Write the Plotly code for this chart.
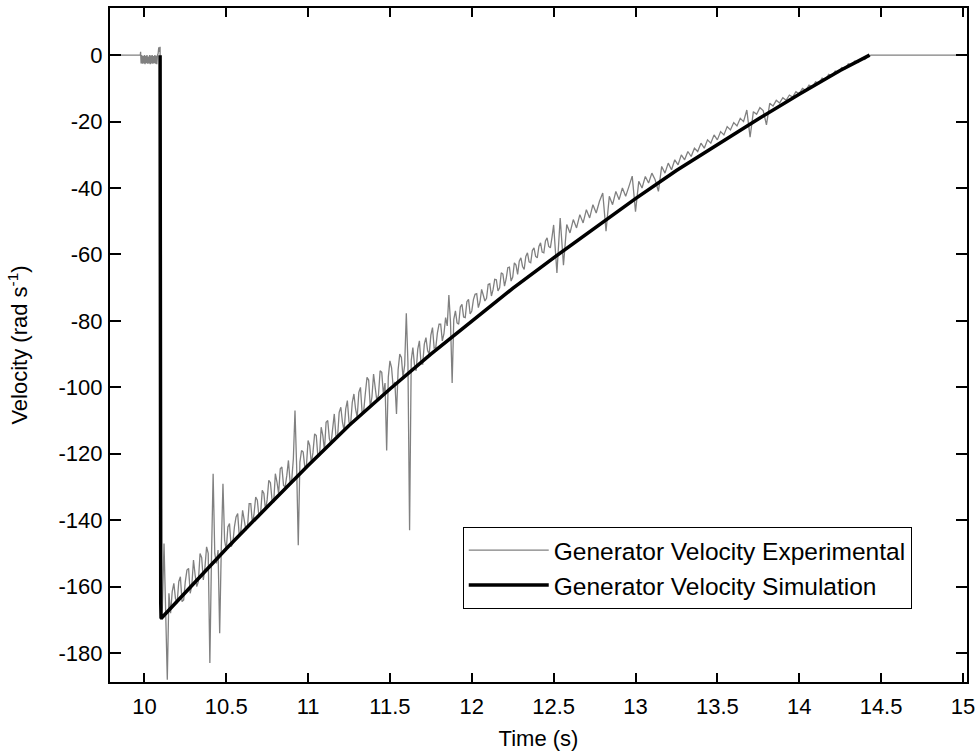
import numpy as np
import plotly.graph_objects as go

# ---------------- data ----------------
# Simulation (black)
sim_time = [10.096, 10.096, 10.100, 10.100, 10.102, 10.300, 10.500, 10.750, 11.000,
            11.250, 11.500, 11.750, 12.000, 12.250, 12.500, 12.750, 13.000, 13.250,
            13.500, 13.750, 14.000, 14.250, 14.430]
sim_vel = [0.0, -55.0, -56.0, -165.0, -169.6, -159.0, -148.6, -136.0, -123.5,
           -111.5, -100.5, -90.0, -80.0, -70.2, -61.0, -52.0, -43.2, -34.7,
           -26.8, -19.2, -11.8, -4.6, 0.0]

# Experimental (grey): idle part before the step
exp_time_pre = [9.790, 9.975, 9.977, 9.980, 9.984, 9.988, 9.992, 9.996, 10.000, 10.004,
                10.008, 10.012, 10.016, 10.020, 10.024, 10.028, 10.032, 10.036, 10.040,
                10.044, 10.048, 10.052, 10.056, 10.060, 10.064, 10.068, 10.072, 10.076,
                10.080, 10.084, 10.088, 10.092, 10.096, 10.099]
exp_vel_pre = [0.0, 0.0, 1.0, -2.5, 0.0, -2.6, -0.3, -2.5, 0.0, -2.7,
               -0.2, -2.4, 0.0, -2.6, -0.4, -2.5, 0.0, -2.7, -0.1,
               -2.5, 0.0, -2.6, -0.3, -2.4, 0.0, -2.6, -0.2, -2.7,
               0.0, 0.5, 2.4, 1.0, 2.5, -40.0]

# Experimental (grey): decay part, sampled every 0.02 s from 10.10 s
exp_start = 10.10
exp_step = 0.02
exp_vel_main = [
    -170, -147, -188, -168, -159, -165, -157, -164, -155, -162,
    -152, -160, -150, -158, -148, -183, -126, -153, -174, -129,
    -149, -141, -147, -139, -145, -137, -143, -135, -141, -133,
    -139, -131, -137, -128, -134, -126, -132, -124, -130, -122,
    -128, -107, -147.5, -119, -124, -116, -123, -114, -121, -112,
    -119, -110, -117, -108, -115, -106, -113, -104, -111, -102,
    -109, -100, -107, -97, -106, -96, -104, -95, -102, -119,
    -92, -100, -108, -90, -97, -77.7, -143, -88, -95, -86,
    -93, -85, -90, -82, -88, -81, -86, -79, -72.2, -98.7,
    -77, -81, -75, -79, -73.5, -77, -72, -76, -70.5, -74,
    -69, -72.5, -67.5, -71, -65.5, -69.5, -64, -68, -62.5, -66,
    -61, -64.5, -59.5, -62.5, -58, -61, -56.5, -59.5, -55, -58,
    -51.1, -65.6, -49, -63.2, -51, -53.5, -49.5, -52, -48, -50.5,
    -46.5, -49, -45, -47.5, -44, -41.5, -53, -42.5, -45, -41,
    -43.5, -40, -42.5, -39.5, -36.4, -47.1, -38, -40, -36.5, -38.5,
    -35.5, -37.5, -41, -33.5, -35.5, -32.5, -34.5, -31.5, -33, -30,
    -31.5, -29, -30.5, -28, -29, -26.5, -28, -25.5, -26.5, -24,
    -25.5, -23, -24, -21.5, -22.5, -20.3, -21.3, -19, -20, -16.5,
    -24.7, -17, -17.8, -15.8, -16.7, -21, -14.5, -15.3, -13.6, -14.4,
    -12.8, -13.6, -12, -12.6, -11, -11.6, -10, -10.6, -9, -9.6,
    -8, -8.5, -6.9, -7.4, -5.8, -6.3, -4.8, -5.2, -3.7, -4.1,
    -2.6, -3.0, -1.8, -2.2, -1.0, -1.3, -0.3, 0.0,
]

# Experimental (grey): extra samples in between, every 0.02 s from 10.11 s
exp_mid_start = 10.11
exp_vel_mid = [
    -166, -168, -162, -161.5, -163.6, -158.5, -164.5, -158.5, -154.5, -159.5,
    -156.5, -158.4, -151.3, -154.2, -150, -151, -150, -149, -148, -146,
    -142, -148, -142, -138, -143, -140, -142, -135, -138, -134,
    -138, -131.9, -133.8, -128.7, -134.6, -128.5, -124.5, -129.5, -126.5, -128.5,
    -121.5, -123.5, -122.5, -119.5, -123.5, -117.5, -119.5, -114.5, -120.5, -114.5,
    -110.5, -115.5, -112.5, -114.5, -107.5, -110.5, -106.5, -110.5, -104.5, -106.5,
    -101.5, -107.6, -101.7, -97.8, -102.9, -100.1, -102.3, -95.5, -98.7, -96.9,
    -94.1, -98.4, -94.7, -91, -93.3, -92.6, -91.9, -93.2, -88.5, -92.8,
    -87, -88.9, -84.3, -88.2, -83.6, -81, -83.8, -81.5, -80.5, -79.5,
    -80.6, -75.8, -78.8, -74.2, -77.9, -73.6, -71.8, -74.3, -72.2, -73.2,
    -68.8, -70.6, -67.6, -70, -65.9, -67.3, -63.8, -66.8, -63.2, -62,
    -63.6, -60.6, -62.2, -58.8, -60.6, -57.6, -59.3, -55.9, -57.6, -54.8,
]

# Experimental (grey): idle part after the stop
exp_time_post = [14.46, 15.025]
exp_vel_post = [0.0, 0.0]

# axis ticks
x_tick_vals = [10, 10.5, 11, 11.5, 12, 12.5, 13, 13.5, 14, 14.5, 15]
x_tick_text = ["10", "10.5", "11", "11.5", "12", "12.5", "13", "13.5", "14", "14.5", "15"]
y_tick_vals = [0, -20, -40, -60, -80, -100, -120, -140, -160, -180]
y_tick_text = ["0", "-20", "-40", "-60", "-80", "-100", "-120", "-140", "-160", "-180"]

# ---------------- build series ----------------
t_main = np.round(exp_start + exp_step * np.arange(len(exp_vel_main)), 3)
t_mid = np.round(exp_mid_start + exp_step * np.arange(len(exp_vel_mid)), 3)
t_decay = np.concatenate([t_main, t_mid])
v_decay = np.concatenate([np.array(exp_vel_main, float), np.array(exp_vel_mid, float)])
order = np.argsort(t_decay, kind="stable")
exp_time = list(exp_time_pre) + list(t_decay[order]) + list(exp_time_post)
exp_vel = list(exp_vel_pre) + list(v_decay[order]) + list(exp_vel_post)

FONT = "Liberation Sans, Arial, sans-serif"

fig = go.Figure()
fig.add_trace(go.Scatter(
    x=exp_time, y=exp_vel, mode="lines",
    name="Generator Velocity Experimental",
    line=dict(color="#808080", width=1.3),
))
fig.add_trace(go.Scatter(
    x=sim_time, y=sim_vel, mode="lines",
    name="Generator Velocity Simulation",
    line=dict(color="#000000", width=3.5),
))

axis_common = dict(
    showgrid=False, zeroline=False,
    showline=True, linecolor="black", linewidth=2, mirror="ticks",
    ticks="inside", tickcolor="black", tickwidth=2,
    tickfont=dict(family=FONT, size=22, color="black"),
)

fig.update_layout(
    width=979, height=756,
    margin=dict(l=110, r=12, t=8, b=74, autoexpand=False),
    paper_bgcolor="white", plot_bgcolor="white",
    font=dict(family=FONT, size=22, color="black"),
    xaxis=dict(range=[9.79, 15.025], tickvals=x_tick_vals, ticktext=x_tick_text,
               ticklen=9, ticklabelstandoff=4,
               title=dict(text="Time (s)", font=dict(family=FONT, size=22), standoff=12),
               **axis_common),
    yaxis=dict(range=[-188.7, 14.2], tickvals=y_tick_vals, ticktext=y_tick_text,
               ticklen=11, ticklabelstandoff=1,
               title=dict(text="Velocity (rad s<sup>-1</sup>)", font=dict(family=FONT, size=22), standoff=25),
               **axis_common),
    showlegend=True,
    legend=dict(x=0.4116, y=0.2304, xanchor="left", yanchor="top",
                bgcolor="white", bordercolor="black", borderwidth=1,
                font=dict(family=FONT, size=24.5, color="black"),
                itemwidth=80, tracegroupgap=0,
                entrywidth=380, entrywidthmode="pixels"),
)

fig.write_html("out.html", config={"displayModeBar": False},
               post_script="document.body.style.margin='0';")
